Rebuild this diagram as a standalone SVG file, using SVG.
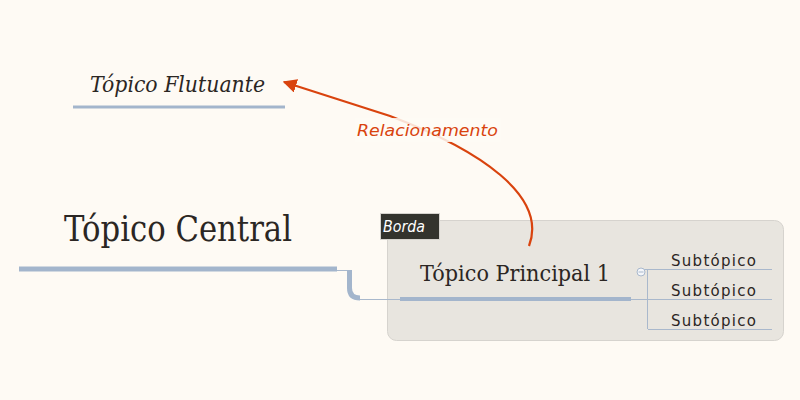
<svg xmlns="http://www.w3.org/2000/svg" width="800" height="400" viewBox="0 0 800 400">
<defs>
<style>
.serif{font-family:Georgia,"DejaVu Serif","Liberation Serif",serif;fill:#2b2623}
.sub{font-family:"DejaVu Sans","Liberation Sans",sans-serif;font-size:15px;fill:#2b2623}
.thick{stroke:#a3b5cc;fill:none}
.thin{stroke:#a9b8cc;stroke-width:1;fill:none}
</style>
<marker id="arr" viewBox="0 0 10 10" refX="9" refY="5" markerWidth="14" markerHeight="14" markerUnits="userSpaceOnUse" orient="auto">
<path d="M0,0 L10,5 L0,10 z" fill="#d9430e"/>
</marker>
</defs>
<rect width="800" height="400" fill="#fefaf4"/>

<g id="boundary">
<rect x="387.5" y="220.5" width="396" height="120" rx="9" fill="#e8e5df" stroke="#d6d3ce"/>
<rect x="380.5" y="213.5" width="59" height="26" fill="#33332d" stroke="#d6d3ce"/>
<text x="383" y="232" font-family="DejaVu Sans,Liberation Sans,sans-serif" font-style="italic" font-size="15" fill="#ffffff" textLength="42" lengthAdjust="spacingAndGlyphs">Borda</text>
</g>

<g id="connectors">
<path class="thin" d="M337,270.5 H348"/>
<path class="thick" stroke-width="5" d="M349.5,270 V288 Q349.5,298 360,298"/>
<path class="thin" d="M360,299.5 H400"/>
<path class="thin" d="M631,299.5 H772"/>
<path class="thin" d="M647.5,269 V329"/>
<path class="thin" d="M643,269.5 H772"/>
<path class="thin" d="M648,329.5 H772"/>
<path d="M529,246 C548,196 480,150 390,116 L284,82" fill="none" stroke="#d9430e" stroke-width="2.2" marker-end="url(#arr)"/>
</g>

<g id="floating-topic">
<text class="serif" x="90" y="92" font-size="22" font-style="italic" textLength="175" lengthAdjust="spacingAndGlyphs">Tópico Flutuante</text>
<rect x="73" y="105.5" width="212" height="3" fill="#a3b5cc"/>
</g>

<g id="relationship-label">
<rect x="355" y="118" width="146" height="24" fill="#fefaf4" opacity="0.85"/>
<text x="357" y="136" font-family="DejaVu Sans,Liberation Sans,sans-serif" font-style="italic" font-size="16" fill="#d9430e" textLength="141" lengthAdjust="spacingAndGlyphs">Relacionamento</text>
</g>

<g id="central-topic">
<text class="serif" x="64" y="241" font-size="35" textLength="228" lengthAdjust="spacingAndGlyphs">Tópico Central</text>
<rect x="19" y="266.5" width="318" height="5" fill="#a3b5cc"/>
</g>

<g id="main-topic">
<text class="serif" x="420" y="281" font-size="22" textLength="190" lengthAdjust="spacingAndGlyphs">Tópico Principal 1</text>
<rect x="400" y="297" width="231" height="4" fill="#a3b5cc"/>
<circle cx="641" cy="272" r="4" fill="#f4f6fa" stroke="#a9b8cc"/>
<path d="M638.5,272 H643.5" stroke="#a9b8cc" stroke-width="1"/>
</g>

<g id="subtopic-1"><text class="sub" x="671" y="266" textLength="85">Subtópico</text></g>
<g id="subtopic-2"><text class="sub" x="671" y="296" textLength="85">Subtópico</text></g>
<g id="subtopic-3"><text class="sub" x="671" y="326" textLength="85">Subtópico</text></g>
</svg>
